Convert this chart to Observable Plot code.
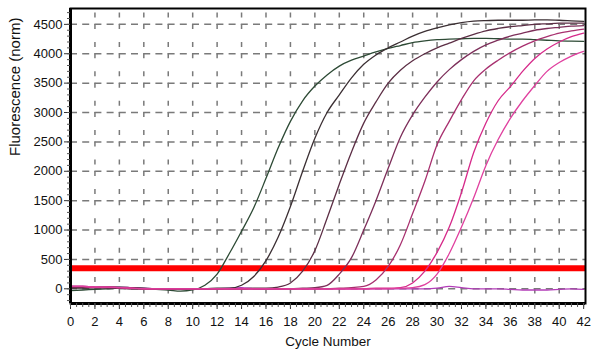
<!DOCTYPE html>
<html>
<head>
<meta charset="utf-8">
<script src="https://cdn.jsdelivr.net/npm/d3@7"></script>
<script src="https://cdn.jsdelivr.net/npm/@observablehq/plot@0.6"></script>
<style>
  html, body { margin: 0; padding: 0; background: #ffffff; }
  #chart { width: 593px; height: 356px; }
</style>
</head>
<body>
<div id="chart"></div>
<script>
// ---- data ----
const cycles = [0,1,2,3,4,5,6,7,8,9,10,11,12,13,14,15,16,17,18,19,20,21,22,23,24,25,26,27,28,29,30,31,32,33,34,35,36,37,38,39,40,41,42];

const sample1 = [-30,-20,-10,0,10,10,0,-10,-20,-40,-20,60,250,600,980,1380,1880,2400,2850,3200,3450,3640,3790,3890,3960,4030,4090,4140,4190,4220,4240,4250,4255,4260,4260,4255,4250,4250,4240,4230,4220,4215,4210];
const sample2 = [10,10,20,30,30,20,10,0,-10,-10,0,0,10,10,60,210,480,880,1400,2000,2560,3000,3300,3590,3820,3980,4100,4200,4300,4380,4440,4490,4530,4555,4565,4570,4570,4570,4575,4575,4570,4560,4550];
const sample3 = [20,20,20,10,10,0,0,0,0,0,0,0,0,0,0,10,10,30,100,300,650,1200,1780,2330,2820,3180,3500,3720,3880,4000,4100,4180,4260,4330,4390,4430,4460,4480,4500,4510,4520,4520,4520];
const sample4 = [30,30,20,20,10,0,0,0,0,0,0,0,0,0,0,0,0,0,0,10,20,60,250,530,1000,1500,2050,2580,2960,3260,3520,3730,3900,4040,4150,4230,4300,4350,4400,4430,4450,4470,4480];
const sample5 = [40,40,30,30,20,10,0,0,0,0,0,0,0,0,0,0,0,0,0,0,0,0,10,20,40,150,380,750,1280,1830,2450,2850,3220,3540,3740,3890,4020,4130,4220,4290,4350,4390,4420];
const sample6 = [40,40,30,30,20,10,0,0,0,0,0,0,0,0,0,0,0,0,0,0,0,0,0,0,0,10,10,20,100,300,620,1050,1640,2320,2820,3200,3440,3700,3920,4080,4200,4290,4350];
const sample7 = [40,40,30,30,20,10,0,0,0,0,0,0,0,0,0,0,0,0,0,0,0,0,0,0,0,0,0,10,20,70,250,600,1050,1550,2100,2540,2900,3200,3460,3700,3850,3960,4040];
const sample8 = [40,40,30,30,30,20,10,0,0,-10,0,0,0,10,20,0,-10,0,0,0,0,0,0,0,0,0,0,0,0,0,10,40,20,0,0,0,-10,-20,-20,-20,-10,0,-10];

const seriesNames = ["NTC", "S1", "S2", "S3", "S4", "S5", "S6", "S7"];
const seriesColors = ["#b23cb8", "#2d4a35", "#3b2f33", "#5c2e45", "#7d2f5a", "#a8306f", "#d62a8a", "#e0409f"];
const seriesValues = [sample8, sample1, sample2, sample3, sample4, sample5, sample6, sample7];

const threshold = [350];
const yTicks = [0,500,1000,1500,2000,2500,3000,3500,4000,4500];
const yMinorTicks = [-200,-100,0,100,200,300,400,500,600,700,800,900,1000,1100,1200,1300,1400,1500,1600,1700,1800,1900,2000,2100,2200,2300,2400,2500,2600,2700,2800,2900,3000,3100,3200,3300,3400,3500,3600,3700,3800,3900,4000,4100,4200,4300,4400,4500,4600,4700];
const xTicks = [0,2,4,6,8,10,12,14,16,18,20,22,24,26,28,30,32,34,36,38,40,42];
const xMinorTicks = [0,0.5,1,1.5,2,2.5,3,3.5,4,4.5,5,5.5,6,6.5,7,7.5,8,8.5,9,9.5,10,10.5,11,11.5,12,12.5,13,13.5,14,14.5,15,15.5,16,16.5,17,17.5,18,18.5,19,19.5,20,20.5,21,21.5,22,22.5,23,23.5,24,24.5,25,25.5,26,26.5,27,27.5,28,28.5,29,29.5,30,30.5,31,31.5,32,32.5,33,33.5,34,34.5,35,35.5,36,36.5,37,37.5,38,38.5,39,39.5,40,40.5,41,41.5,42];
const xGrid = [2,4,6,8,10,12,14,16,18,20,22,24,26,28,30,32,34,36,38,40];
const yGrid = [0,500,1000,1500,2000,2500,3000,3500,4000,4500];

// ---- tidy table for the library ----
const rows = [];
seriesNames.forEach((name, i) => {
  cycles.forEach((c, j) => rows.push({cycle: c, value: seriesValues[i][j], series: name}));
});

const chart = Plot.plot({
  width: 593,
  height: 356,
  marginLeft: 70,
  marginRight: 8,
  marginTop: 8,
  marginBottom: 53,
  x: {domain: [0, 42.15]},
  y: {domain: [-250, 4770]},
  color: {domain: seriesNames, range: seriesColors},
  style: {fontFamily: "'Liberation Sans', Arial, sans-serif", fontSize: "13px", background: "#ffffff", color: "#111"},
  marks: [
    // grid
    Plot.ruleY(yGrid, {y: d => d, stroke: "#7a7a7a", strokeWidth: 1.5, strokeDasharray: "7,5.2"}),
    Plot.ruleX(xGrid, {x: d => d, y1: 5000, y2: -250, stroke: "#7a7a7a", strokeWidth: 1.5, strokeDasharray: "5,13,5,6.4", clip: true}),
    // threshold
    Plot.ruleY(threshold, {y: d => d, stroke: "#ff0000", strokeWidth: 6}),
    // amplification curves
    Plot.line(rows, {x: "cycle", y: "value", z: "series", stroke: "series", strokeWidth: 1.3, curve: "monotone-x"}),
    // frame
    Plot.frame({stroke: "#000", strokeWidth: 2}),
    Plot.ruleX([0], {x: d => d, stroke: "#000", strokeWidth: 3}),
    Plot.ruleY([-250], {y: d => d, stroke: "#000", strokeWidth: 3}),
    // axes
    Plot.axisY({ticks: yTicks, tickSize: 6, tickPadding: 2, tickFormat: d3.format("d"), label: null, fontSize: 13, stroke: "#333"}),
    Plot.axisY({ticks: yMinorTicks, tickSize: 3, tickFormat: () => "", label: null, stroke: "#555"}),
    Plot.axisX({ticks: xTicks, tickSize: 6, tickPadding: 7, tickFormat: d3.format("d"), label: null, fontSize: 13, stroke: "#333"}),
    Plot.axisX({ticks: xMinorTicks, tickSize: 4, tickFormat: () => "", label: null, stroke: "#555"}),
    // axis titles
    Plot.text(["Fluorescence (norm)"], {text: d => d, frameAnchor: "left", dx: -55, rotate: -90, fontSize: 15, fill: "#111", style: "letter-spacing: 0.8px"}),
    Plot.text(["Cycle Number"], {text: d => d, frameAnchor: "bottom", dy: 42, fontSize: 13.5, fill: "#111"})
  ]
});
document.getElementById("chart").appendChild(chart);
</script>
</body>
</html>
